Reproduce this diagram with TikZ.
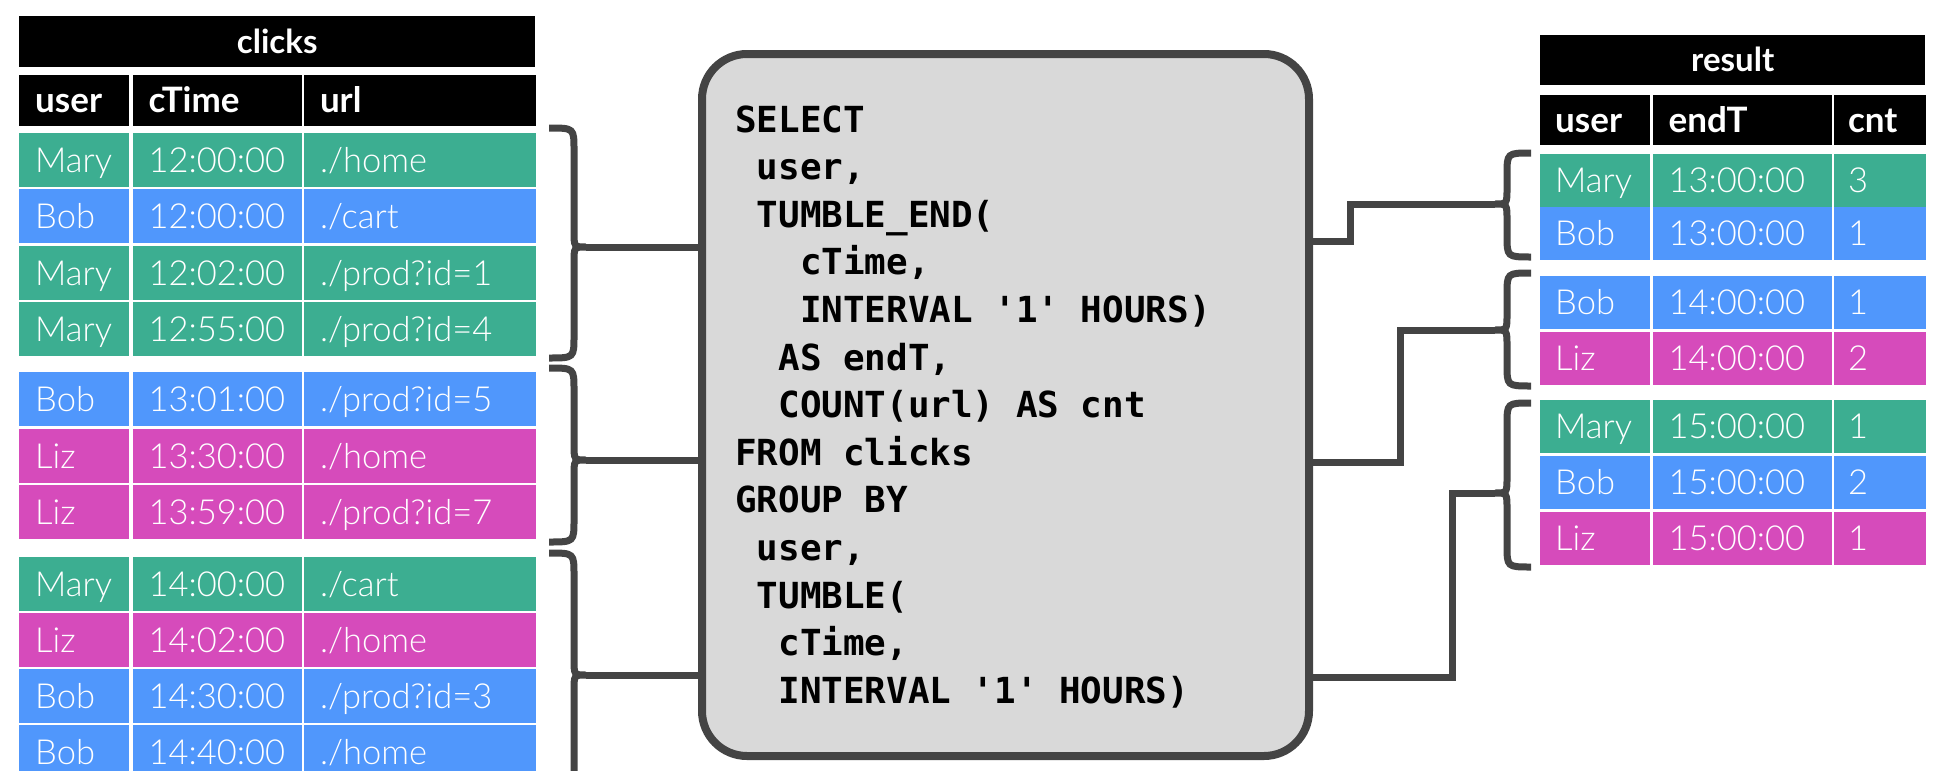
\documentclass[tikz,border=0pt]{standalone}
\usepackage{fontspec}
\setmainfont{Lato}
\setmonofont{DejaVu Sans Mono}
\newfontfamily\thinfont{Lato Light}
\definecolor{RowGreen}{RGB}{60,174,145}
\definecolor{RowBlue}{RGB}{80,151,252}
\definecolor{RowPink}{RGB}{214,75,187}
\definecolor{BoxGray}{RGB}{217,217,217}
\definecolor{LineGray}{RGB}{68,68,68}
\usetikzlibrary{positioning}

\begin{document}
\begin{tikzpicture}[x=1pt,y=-1pt,
    cell/.style={fill=#1,anchor=north west,inner xsep=16pt,inner ysep=0pt,
                 minimum height=54pt,text height=24pt,text depth=0pt,
                 align=left,text=white,font=\fontsize{34.5}{34.5}\selectfont\thinfont},
    head/.style={cell=black,minimum height=51pt,font=\fontsize{35}{35}\selectfont\bfseries},
    ttl/.style={fill=black,text=white,anchor=north west,inner sep=0pt,
                minimum height=51pt,text height=23pt,text depth=0pt,
                font=\fontsize{33}{33}\selectfont\bfseries},
    sqlbox/.style={draw=LineGray,line width=8pt,fill=BoxGray,rounded corners=45pt,
                   minimum width=607pt,minimum height=702pt,inner sep=0pt},
    sqltxt/.style={anchor=base west,inner sep=0pt,
                   font=\fontsize{35.9}{35.9}\selectfont\ttfamily\bfseries},
    brace/.style={draw=LineGray,line width=7pt},
    conn/.style={draw=LineGray,line width=7pt}]
  \clip (0,0) rectangle (1944,771);

  % input table
  \node[ttl,minimum width=516pt] (clicks) at (19,16) {clicks};
  \node[head,text width=78pt] (ch1) at (19,75) {user};
  \node[head,text width=137pt,right=3pt of ch1] (ch2) {cTime};
  \node[head,text width=200pt,right=2pt of ch2] (ch3) {url};
  \foreach \r/\y/\col/\u/\t/\w in {
      1/133/RowGreen/Mary/12:00:00/{./home},
      2/189/RowBlue/Bob/12:00:00/{./cart},
      3/246/RowGreen/Mary/12:02:00/{./prod?id=1},
      4/302/RowGreen/Mary/12:55:00/{./prod?id=4},
      5/372/RowBlue/Bob/13:01:00/{./prod?id=5},
      6/429/RowPink/Liz/13:30:00/{./home},
      7/485/RowPink/Liz/13:59:00/{./prod?id=7},
      8/557/RowGreen/Mary/14:00:00/{./cart},
      9/613/RowPink/Liz/14:02:00/{./home},
      10/669/RowBlue/Bob/14:30:00/{./prod?id=3},
      11/725/RowBlue/Bob/14:40:00/{./home}} {
    \node[cell=\col,text width=78pt] (c\r-1) at (19,\y) {\u};
    \node[cell=\col,text width=137pt,right=3pt of c\r-1] (c\r-2) {\t};
    \node[cell=\col,text width=200pt,right=2pt of c\r-2] (c\r-3) {\w};
  }

  % result table
  \node[ttl,minimum width=385pt,minimum height=50pt] (result) at (1540,35) {result};
  \node[head,text width=80pt,inner xsep=15pt,minimum height=50pt] (rh1) at (1540,95) {user};
  \node[head,text width=147pt,minimum height=50pt,right=2pt of rh1] (rh2) {endT};
  \node[head,text width=64pt,inner xsep=14pt,minimum height=50pt,right=2pt of rh2] (rh3) {cnt};
  \foreach \r/\y/\col/\u/\t/\k in {
      1/154/RowGreen/Mary/13:00:00/3,
      2/207/RowBlue/Bob/13:00:00/1,
      3/276/RowBlue/Bob/14:00:00/1,
      4/332/RowPink/Liz/14:00:00/2,
      5/400/RowGreen/Mary/15:00:00/1,
      6/456/RowBlue/Bob/15:00:00/2,
      7/512/RowPink/Liz/15:00:00/1} {
    \node[cell=\col,text width=80pt,inner xsep=15pt,minimum height=53pt] (r\r-1) at (1540,\y) {\u};
    \node[cell=\col,text width=147pt,minimum height=53pt,right=2pt of r\r-1] (r\r-2) {\t};
    \node[cell=\col,text width=64pt,inner xsep=14pt,minimum height=53pt,right=2pt of r\r-2] (r\r-3) {\k};
  }

  % query
  \node[sqlbox] (query) at (1005.5,405) {};
  \foreach \n/\i/\s in {0/0/{SELECT}, 1/1/{user,}, 2/1/{TUMBLE\_END(},
      3/3/{cTime,}, 4/3/{INTERVAL '1' HOURS)}, 5/2/{AS endT,},
      6/2/{COUNT(url) AS cnt}, 7/0/{FROM clicks}, 8/0/{GROUP BY},
      9/1/{user,}, 10/1/{TUMBLE(}, 11/2/{cTime,}, 12/2/{INTERVAL '1' HOURS)}}
    \node[sqltxt] (q\n) at (735+21.6*\i,132+47.6*\n) {\s};

  % braces
  \foreach \a/\c/\b/\n in {128/247/358/1, 368/460/542/2, 553/675/797/3} {
    \draw[brace] (549,\a) .. controls (574,\a) .. (574,\a+22) -- (574,\c-16)
      .. controls (574,\c) .. (586,\c) .. controls (574,\c) .. (574,\c+16)
      -- (574,\b-22) .. controls (574,\b) .. (549,\b);
    \coordinate (lb\n) at (586,\c);
  }
  \foreach \a/\c/\b/\n in {153/204/257/1, 273/330/386/2, 403/493/567/3} {
    \draw[brace] (1531,\a) .. controls (1507,\a) .. (1507,\a+22) -- (1507,\c-16)
      .. controls (1507,\c) .. (1495,\c) .. controls (1507,\c) .. (1507,\c+16)
      -- (1507,\b-22) .. controls (1507,\b) .. (1531,\b);
    \coordinate (rb\n) at (1495,\c);
  }

  % connectors
  \coordinate (rk1) at (1350,241);
  \coordinate (rk2) at (1400,462);
  \coordinate (rk3) at (1452,677);
  \foreach \n in {1,2,3} {
    \draw[conn] (lb\n) -- (lb\n -| query.west);
    \draw[conn] (rk\n -| query.east) -- (rk\n) |- (rb\n);
  }
\end{tikzpicture}
\end{document}
